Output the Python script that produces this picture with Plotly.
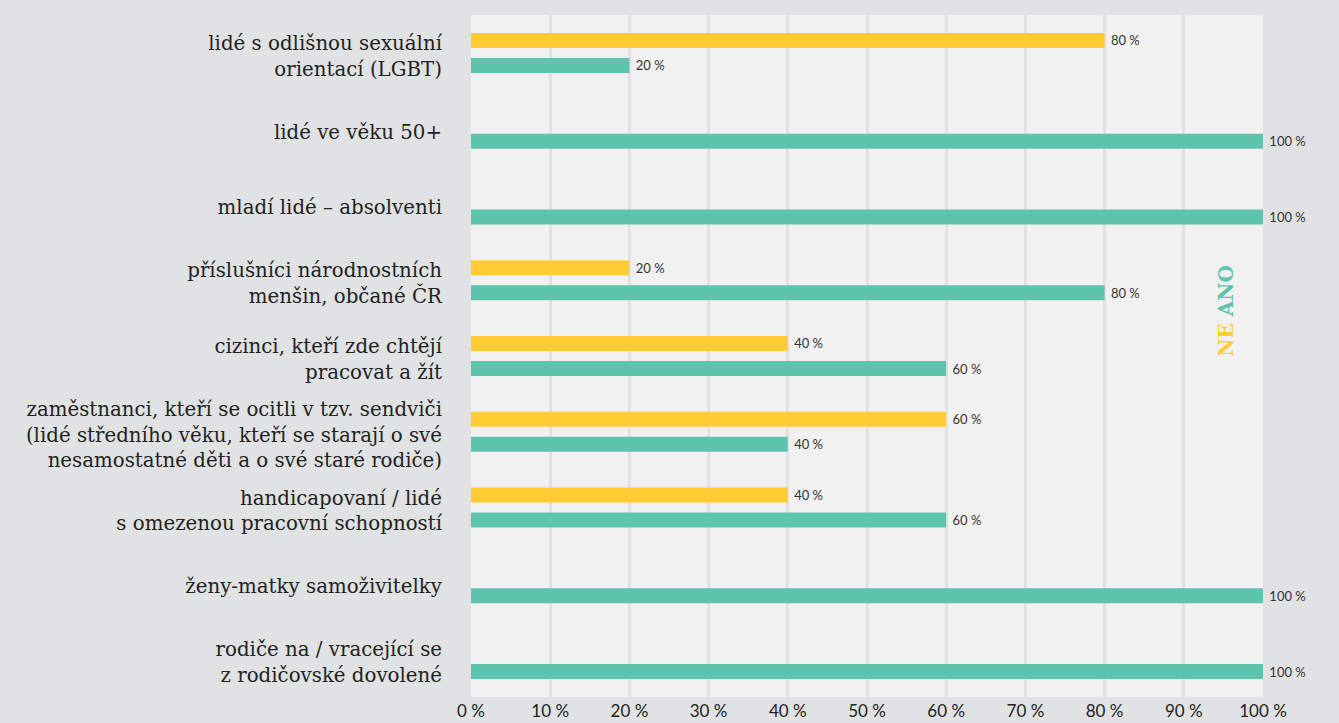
import plotly.graph_objects as go

categories = [
    "lidé s odlišnou sexuální<br>orientací (LGBT)",
    "lidé ve věku 50+",
    "mladí lidé – absolventi",
    "příslušníci národnostních<br>menšin, občané ČR",
    "cizinci, kteří zde chtějí<br>pracovat a žít",
    "zaměstnanci, kteří se ocitli v tzv. sendviči<br>(lidé středního věku, kteří se starají o své<br>nesamostatné děti a o své staré rodiče)",
    "handicapovaní / lidé<br>s omezenou pracovní schopností",
    "ženy-matky samoživitelky",
    "rodiče na / vracející se<br>z rodičovské dovolené",
]
ne_values = [80, 0, 0, 20, 40, 60, 40, 0, 0]
ano_values = [20, 100, 100, 80, 60, 40, 60, 100, 100]
tick_values = [0, 10, 20, 30, 40, 50, 60, 70, 80, 90, 100]
tick_labels = [f"{v} %" for v in tick_values]

YELLOW = "#ffcc33"
GREEN = "#5fc4ae"
PAPER = "#e1e2e4"
PLOT = "#f1f1f1"

def labels(vals):
    return [f"\u00a0{v} %" if v else "" for v in vals]

fig = go.Figure()
fig.add_trace(go.Bar(
    name="NE", y=categories, x=ne_values, orientation="h",
    marker=dict(color=YELLOW, line=dict(width=0)),
    text=labels(ne_values), textposition="outside", constraintext="none",
    textfont=dict(family="Lato", size=13, color="#333333"),
    cliponaxis=False, hoverinfo="skip",
))
fig.add_trace(go.Bar(
    name="ANO", y=categories, x=ano_values, orientation="h",
    marker=dict(color=GREEN, line=dict(width=0)),
    text=labels(ano_values), textposition="outside", constraintext="none",
    textfont=dict(family="Lato", size=13, color="#333333"),
    cliponaxis=False, hoverinfo="skip",
))

fig.update_layout(
    width=1339, height=723,
    paper_bgcolor=PAPER, plot_bgcolor=PLOT,
    barmode="group", bargap=0.34, bargroupgap=0.4,
    showlegend=False,
    margin=dict(l=471, r=76, t=15, b=26, autoexpand=False),
    xaxis=dict(
        range=[0, 100], tickvals=tick_values, ticktext=tick_labels,
        showgrid=True, gridcolor=PAPER, gridwidth=3,
        zeroline=False, showline=False,
        tickfont=dict(family="Lato", size=17, color="#222222"),
        ticks="", ticklabelstandoff=2, fixedrange=True,
    ),
    yaxis=dict(
        autorange="reversed", showgrid=False, zeroline=False, showline=False,
        tickfont=dict(family="DejaVu Serif", size=19.8, color="#222222"),
        ticks="", ticklabelstandoff=28, ticklabelshift=-3, fixedrange=True,
    ),
    annotations=[dict(
        xref="paper", yref="paper", x=0.953, y=0.566,
        xanchor="center", yanchor="middle",
        text=f"<b><span style='color:{YELLOW}'>NE</span> <span style='color:{GREEN}'>ANO</span></b>",
        showarrow=False, textangle=-90,
        font=dict(family="DejaVu Serif", size=20),
    )],
)

fig.write_html("out.html", config={"displayModeBar": False},
               post_script="document.body.style.margin='0';")
